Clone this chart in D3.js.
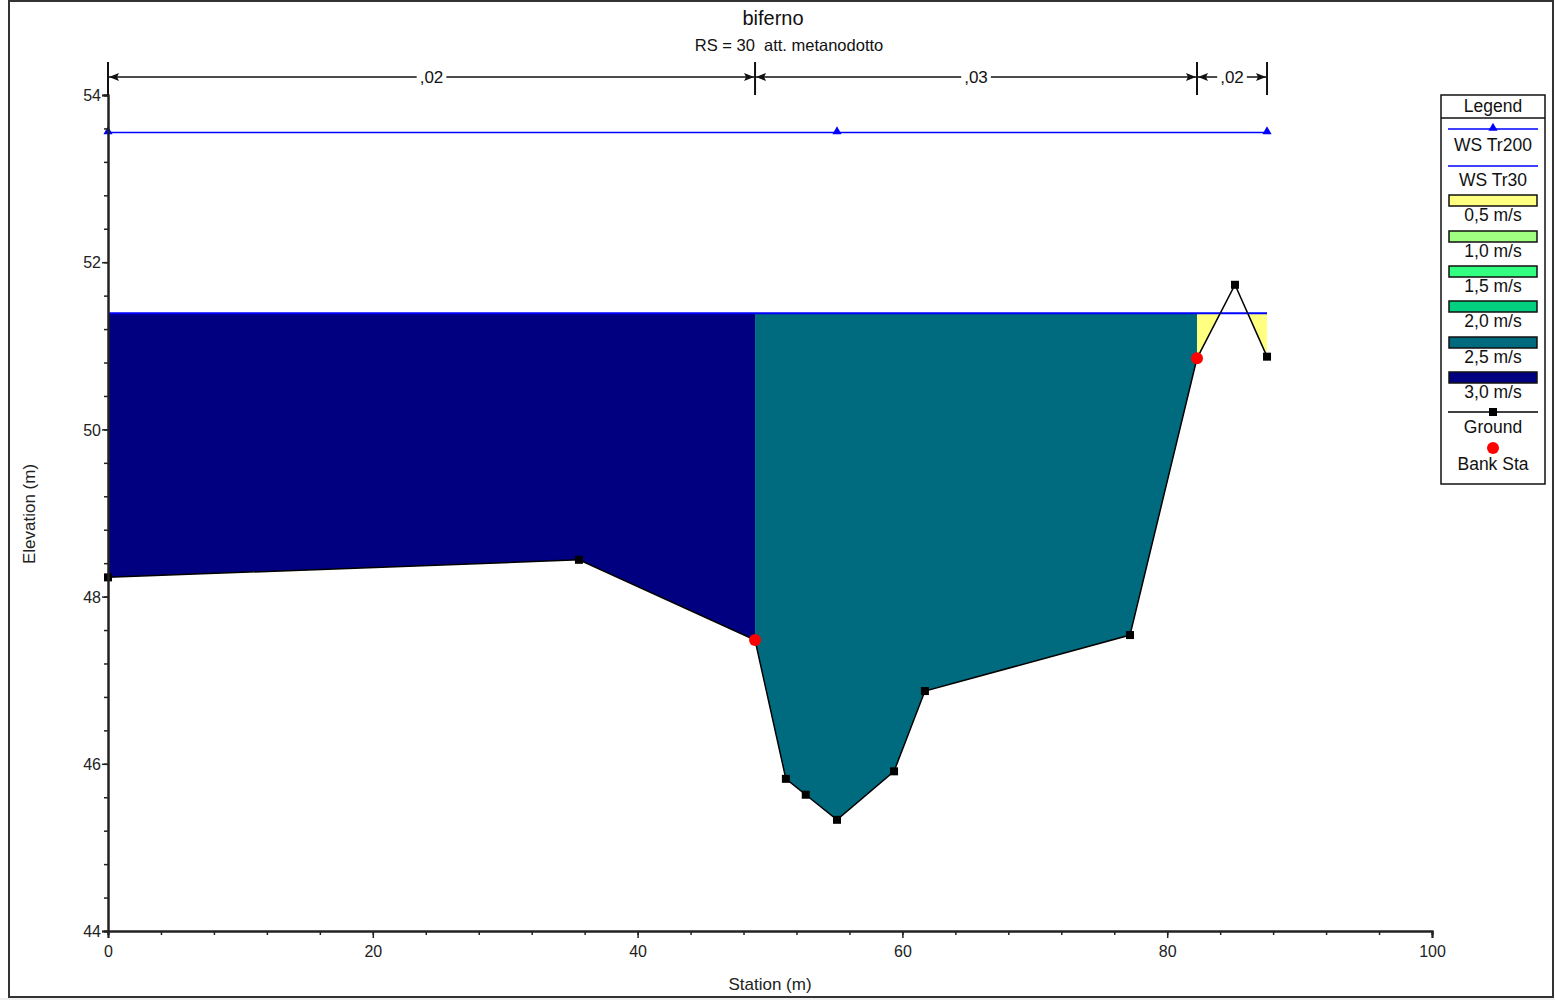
<!DOCTYPE html>
<html>
<head>
<meta charset="utf-8">
<script src="https://cdn.jsdelivr.net/npm/d3@7"></script>
<style>
  body { margin: 0; background: #f0f0f0; font-family: "Liberation Sans", Arial, sans-serif; }
  svg text { font-family: "Liberation Sans", Arial, sans-serif; }
</style>
</head>
<body>
<script>
const width = 1555,
    height = 1000;

// ground profile (station, elevation)
const groundSta = [0, 35.57, 48.87, 51.2, 52.7, 55.06, 59.37, 61.7, 77.19, 82.25, 85.12, 87.54];
const groundElev = [48.23, 48.44, 47.48, 45.82, 45.63, 45.33, 45.91, 46.87, 47.54, 50.85, 51.73, 50.87];
const bankSta = [48.87, 82.25];
const bankElev = [47.48, 50.85];

const wsTr200 = 53.55;
const wsTr200Marks = [0, 55.06, 87.54];
const wsTr30 = 51.39;

// manning n values
const nBreaks = [0, 48.87, 82.25, 87.54];
const nLabels = [",02", ",03", ",02"];

// velocity bands
const velLabels = ["0,5 m/s", "1,0 m/s", "1,5 m/s", "2,0 m/s", "2,5 m/s", "3,0 m/s"];
const velColors = ["#ffff80", "#a0ff80", "#33ff80", "#00d080", "#006b7f", "#000080"];
// fill of each flow segment (index into velColors)
const segFrom = [0, 48.87, 82.25];
const segTo = [48.87, 82.25, 87.54];
const segVel = [5, 4, 0];

const xTicks = [0, 20, 40, 60, 80, 100];
const yTicks = [44, 46, 48, 50, 52, 54];

const ground = groundSta.map((s, i) => ({ x: s, y: groundElev[i] }));

const svg = d3.select('body').append('svg')
    .attr('width', width)
    .attr('height', height)
    .style('display', 'block');

svg.append('rect').attr('x', 0).attr('y', 0).attr('width', width).attr('height', 998).attr('fill', '#fff');
svg.append('rect').attr('x', 9).attr('y', 1).attr('width', 1544).attr('height', 996)
    .attr('fill', 'none').attr('stroke', '#333').attr('stroke-width', 2);

const x = d3.scaleLinear().domain([0, 100]).range([108, 1432]);
const y = d3.scaleLinear().domain([44, 54]).range([931, 95]);

// water fill between ws and ground for a station range
function wetPoints(a, b, ws) {
  var pts = [];
  for (var i = 0; i < ground.length - 1; i++) {
    var p = ground[i], q = ground[i + 1];
    if (q.x < a || p.x > b) continue;
    if (p.x >= a && p.x <= b) pts.push(p);
    if ((p.y - ws) * (q.y - ws) < 0) {
      var t = (ws - p.y) / (q.y - p.y);
      var xi = p.x + t * (q.x - p.x);
      if (xi >= a && xi <= b) pts.push({ x: xi, y: ws });
    }
  }
  var last = ground[ground.length - 1];
  if (last.x >= a && last.x <= b) pts.push(last);
  return pts;
}

const wetArea = d3.area()
    .x(d => x(d.x))
    .y0(y(wsTr30))
    .y1(d => y(Math.min(d.y, wsTr30)));

segFrom.forEach((a, i) => {
  svg.append('path')
      .attr('d', wetArea(wetPoints(a, segTo[i], wsTr30)))
      .attr('fill', velColors[segVel[i]]);
});

// WS lines
svg.append('line')
    .attr('x1', x(0)).attr('x2', x(87.54))
    .attr('y1', y(wsTr30)).attr('y2', y(wsTr30))
    .attr('stroke', '#0000ff').attr('stroke-width', 2);

svg.append('line')
    .attr('x1', x(0)).attr('x2', x(87.54))
    .attr('y1', y(wsTr200)).attr('y2', y(wsTr200))
    .attr('stroke', '#0000ff').attr('stroke-width', 1.5);

const tri = d3.symbol().type(d3.symbolTriangle).size(36);
svg.selectAll('.tri').data(wsTr200Marks).enter().append('path')
    .attr('transform', d => 'translate(' + x(d) + ',' + (y(wsTr200) - 1) + ')')
    .attr('d', tri).attr('fill', '#0000ff');

// ground
svg.append('path')
    .attr('d', d3.line().x(d => x(d.x)).y(d => y(d.y))(ground))
    .attr('fill', 'none').attr('stroke', '#000').attr('stroke-width', 1.5);

svg.selectAll('.gpt').data(ground).enter().append('rect')
    .attr('x', d => x(d.x) - 4).attr('y', d => y(d.y) - 4)
    .attr('width', 8).attr('height', 8).attr('fill', '#000');

svg.selectAll('.bank').data(bankSta).enter().append('circle')
    .attr('cx', d => x(d)).attr('cy', (d, i) => y(bankElev[i]))
    .attr('r', 6).attr('fill', '#ff0000');

// axes
const xAxis = svg.append('g').attr('transform', 'translate(0,931)');
xAxis.call(d3.axisBottom(x).tickValues(d3.range(0, 100.1, 4)).tickSize(4).tickFormat(''));
xAxis.append('g').call(d3.axisBottom(x).tickValues(xTicks).tickSize(7).tickFormat(d => d));
xAxis.selectAll('.domain').attr('stroke', '#222').attr('stroke-width', 2);
xAxis.selectAll('line').attr('stroke', '#222').attr('stroke-width', 1.5);
xAxis.selectAll('text').attr('font-size', 16).attr('fill', '#222').attr('dy', '1em');

const yAxis = svg.append('g').attr('transform', 'translate(108,0)');
yAxis.call(d3.axisLeft(y).tickValues(d3.range(44, 54.01, 0.4)).tickSize(4).tickFormat(''));
yAxis.append('g').call(d3.axisLeft(y).tickValues(yTicks).tickSize(6).tickFormat(d => d));
yAxis.selectAll('.domain').attr('stroke', '#222').attr('stroke-width', 2);
yAxis.selectAll('line').attr('stroke', '#222').attr('stroke-width', 1.5);
yAxis.selectAll('text').attr('font-size', 16).attr('fill', '#222').attr('x', -7).attr('dy', '0.35em');

svg.append('text').attr('x', 770).attr('y', 990).attr('text-anchor', 'middle')
    .attr('font-size', 17).attr('fill', '#222').text('Station (m)');
svg.append('text').attr('transform', 'translate(35,514) rotate(-90)').attr('text-anchor', 'middle')
    .attr('font-size', 17).attr('fill', '#222').text('Elevation (m)');

// titles
svg.append('text').attr('x', 773).attr('y', 25).attr('text-anchor', 'middle')
    .attr('font-size', 20).attr('fill', '#111').text('biferno');
svg.append('text').attr('x', 789).attr('y', 51).attr('text-anchor', 'middle')
    .attr('font-size', 16.5).attr('fill', '#111').style('white-space', 'pre').text('RS = 30  att. metanodotto');

// manning n dimension lines
const dimY = 77;
svg.selectAll('.nbar').data(nBreaks).enter().append('line')
    .attr('x1', d => x(d)).attr('x2', d => x(d))
    .attr('y1', 62).attr('y2', 95)
    .attr('stroke', '#111').attr('stroke-width', 2);

nLabels.forEach((lab, i) => {
  var a = x(nBreaks[i]), b = x(nBreaks[i + 1]), m = (a + b) / 2;
  var t = svg.append('text').attr('x', m).attr('y', dimY + 6).attr('text-anchor', 'middle')
      .attr('font-size', 17).attr('fill', '#111').text(lab);
  var w = t.node().getComputedTextLength() / 2 + 3;
  svg.append('line').attr('x1', a + 1).attr('x2', m - w).attr('y1', dimY).attr('y2', dimY)
      .attr('stroke', '#111').attr('stroke-width', 1.5);
  svg.append('line').attr('x1', m + w).attr('x2', b - 1).attr('y1', dimY).attr('y2', dimY)
      .attr('stroke', '#111').attr('stroke-width', 1.5);
  svg.append('path').attr('d', 'M' + (a + 1) + ',' + dimY + 'l10,-4l-2,4l2,4z').attr('fill', '#111');
  svg.append('path').attr('d', 'M' + (b - 1) + ',' + dimY + 'l-10,-4l2,4l-2,4z').attr('fill', '#111');
});

// legend
const lg = svg.append('g');
const lx = 1441, lw = 104, lcx = lx + lw / 2;
lg.append('rect').attr('x', lx).attr('y', 95).attr('width', lw).attr('height', 389)
    .attr('fill', '#fff').attr('stroke', '#111').attr('stroke-width', 1.5);
lg.append('line').attr('x1', lx).attr('x2', lx + lw).attr('y1', 118).attr('y2', 118)
    .attr('stroke', '#111').attr('stroke-width', 1.5);

function ltext(txt, yy) {
  lg.append('text').attr('x', lcx).attr('y', yy).attr('text-anchor', 'middle')
      .attr('font-size', 17.5).attr('fill', '#111').text(txt);
}
ltext('Legend', 112);

lg.append('line').attr('x1', 1448).attr('x2', 1538).attr('y1', 129).attr('y2', 129)
    .attr('stroke', '#0000ff').attr('stroke-width', 1.5);
lg.append('path').attr('transform', 'translate(' + lcx + ',128)').attr('d', tri).attr('fill', '#0000ff');
ltext('WS Tr200', 151);

lg.append('line').attr('x1', 1448).attr('x2', 1538).attr('y1', 166).attr('y2', 166)
    .attr('stroke', '#0000ff').attr('stroke-width', 1.5);
ltext('WS Tr30', 186);

const swY = [195, 231, 266, 301, 337, 372];
velLabels.forEach((lab, i) => {
  lg.append('rect').attr('x', 1449).attr('y', swY[i]).attr('width', 88).attr('height', 11)
      .attr('fill', velColors[i]).attr('stroke', '#111').attr('stroke-width', 1.5);
  ltext(lab, swY[i] + 26);
});

lg.append('line').attr('x1', 1448).attr('x2', 1538).attr('y1', 412).attr('y2', 412)
    .attr('stroke', '#000').attr('stroke-width', 1.5);
lg.append('rect').attr('x', lcx - 4).attr('y', 408).attr('width', 8).attr('height', 8).attr('fill', '#000');
ltext('Ground', 433);
lg.append('circle').attr('cx', lcx).attr('cy', 448).attr('r', 6).attr('fill', '#ff0000');
ltext('Bank Sta', 470);
</script>
</body>
</html>
